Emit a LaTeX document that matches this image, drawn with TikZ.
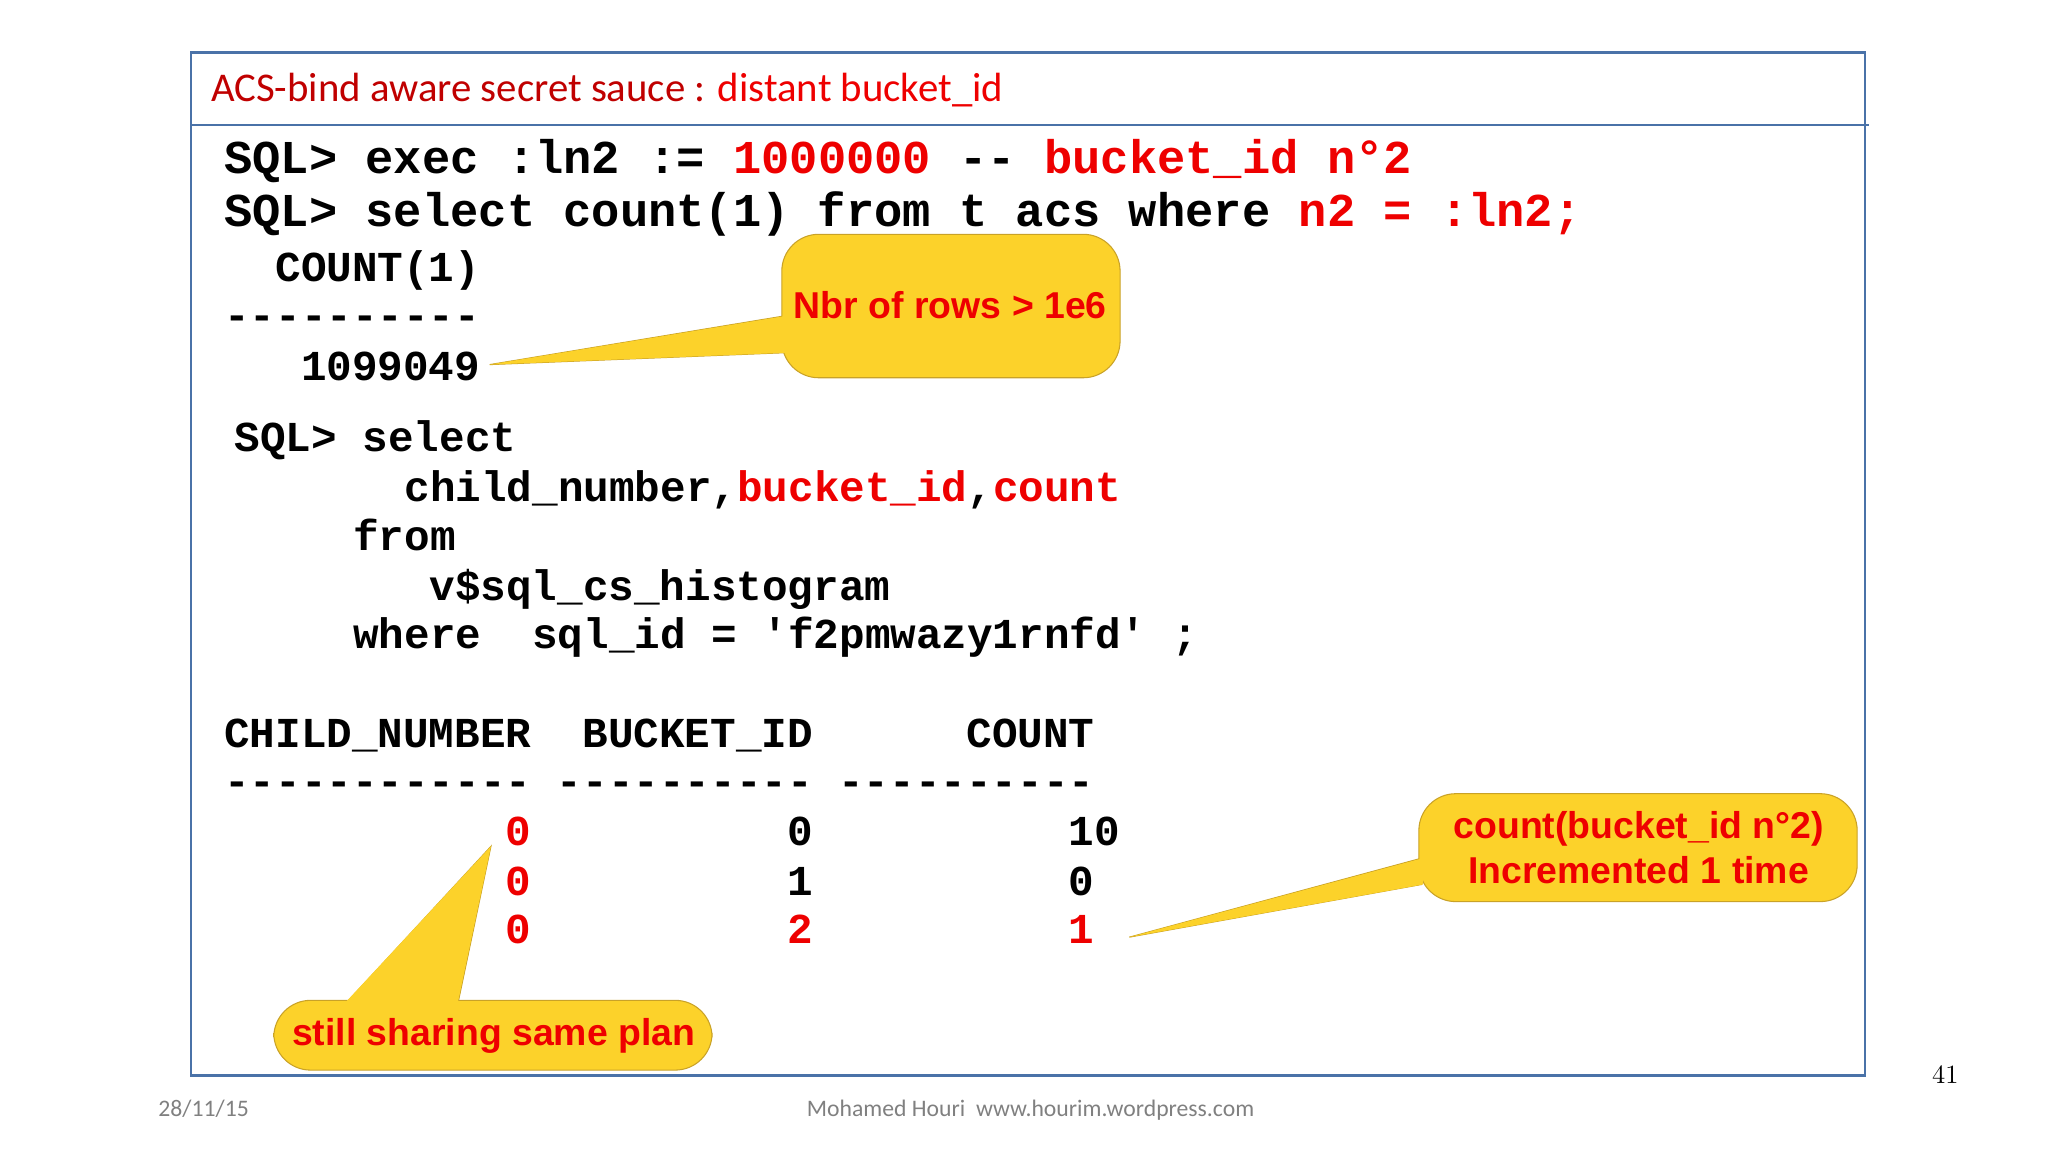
\documentclass[tikz,border=0pt]{standalone}
\usepackage{fontspec}
\setmonofont{Liberation Mono}
\newfontfamily\calib{Carlito}
\newfontfamily\arialf{Liberation Sans}
\definecolor{sqlred}{HTML}{EE0000}
\definecolor{titred}{HTML}{C00000}
\definecolor{frameblue}{HTML}{4A72A8}
\definecolor{calloutfill}{HTML}{FCD22A}
\definecolor{calloutline}{HTML}{C9A227}
\definecolor{footgray}{HTML}{808080}
\newcommand{\R}[1]{\textcolor{sqlred}{#1}}
\begin{document}
\begin{tikzpicture}[x=0.5pt,y=-0.5pt,
  bigcode/.style={anchor=base west,inner sep=0pt,font=\ttfamily\bfseries\fontsize{17.9}{20}\selectfont},
  code/.style={anchor=base west,inner sep=0pt,font=\ttfamily\bfseries\fontsize{16.2}{19}\selectfont},
  ctext/.style={font=\arialf\bfseries\fontsize{14.2}{17}\selectfont,text=sqlred,align=center},
  cbox/.style={fill=calloutfill,draw=calloutline,line width=0.4pt,rounded corners=14pt},
  ctri/.style={fill=calloutfill,draw=calloutline,line width=0.4pt}]
\useasboundingbox (0,0) rectangle (1556,875);
% frame
\draw[frameblue,line width=1pt] (145,40) rectangle (1417,817);
\draw[frameblue,line width=1pt] (145,95) -- (1420,95);
\node[anchor=base west,inner sep=0pt,font=\calib\fontsize{15.5}{18}\selectfont] (title) at (160,77)
  {\textcolor{titred}{ACS-bind aware secret sauce :} \textcolor{sqlred}{distant bucket\_id}};
% code
\node[bigcode] (l1) at (170,132) {SQL>~exec~:ln2~:=~\R{1000000}~--~\R{bucket\_id~n°2}};
\node[bigcode] (l2) at (170,172) {SQL>~select~count(1)~from~t~acs~where~\R{n2~=~:ln2;}};
\node[code] (l3) at (170,214) {~~COUNT(1)};
\node[code] (l4) at (170,250) {----------};
\node[code] (l5) at (170,289) {~~~1099049};
\node[code] (l6) at (178,343) {SQL>~select};
\node[code] (l7) at (307,381) {child\_number,\R{bucket\_id},\R{count}};
\node[code] (l8) at (268,418) {from};
\node[code] (l9) at (326,456) {v\$sql\_cs\_histogram};
\node[code] (l10) at (268,493) {where~~sql\_id~=~'f2pmwazy1rnfd'~;};
\node[code] (h1) at (170,568) {CHILD\_NUMBER~~BUCKET\_ID~~~~~~COUNT};
\node[code] (h2) at (170,604) {------------~----------~----------};
\node[code] (r1) at (170,642) {~~~~~~~~~~~\R{0}~~~~~~~~~~0~~~~~~~~~~10};
\node[code] (r2) at (170,680) {~~~~~~~~~~~\R{0}~~~~~~~~~~1~~~~~~~~~~0};
\node[code] (r3) at (170,717) {~~~~~~~~~~~\R{0}~~~~~~~~~~\R{2}~~~~~~~~~~\R{1}};
\coordinate (t1) at (372,277);
\coordinate (t2) at (858,712);
\coordinate (t3) at (373,643);
% callout 1
\draw[ctri] (t1) -- (596,240) -- (596,268) -- cycle;
\node[cbox,minimum width=257\pgflinewidth,inner sep=0pt] (c1box) at (722.5,232.5) {};
\draw[cbox] (594,178) rectangle (851,287);
\fill[calloutfill] (t1) -- (597,240) -- (597,268) -- cycle;
\node[ctext] (c1) at (722,232) {Nbr of rows > 1e6};
% callout 2
\draw[ctri] (t2) -- (1080,652) -- (1080,672) -- cycle;
\draw[cbox] (1078,603) rectangle (1411,685);
\fill[calloutfill] (t2) -- (1081,652) -- (1081,672) -- cycle;
\node[ctext] (c2) at (1245,644) {count(bucket\_id n°2)\\Incremented 1 time};
% callout 3
\draw[ctri] (t3) -- (263,762) -- (348,762) -- cycle;
\draw[cbox] (208,760) rectangle (541,813);
\fill[calloutfill] (t3) -- (263,761) -- (348,761) -- cycle;
\node[ctext] (c3) at (375,787) {still sharing same plan};
% footer
\node[anchor=base west,inner sep=0pt,text=footgray,font=\calib\fontsize{9}{11}\selectfont] (date) at (120,848) {28/11/15};
\node[anchor=base,inner sep=0pt,text=footgray,font=\calib\fontsize{9}{11}\selectfont] (auth) at (783,848) {Mohamed Houri\ \ www.hourim.wordpress.com};
\node[anchor=base,inner sep=0pt,font=\rmfamily\fontsize{10}{12}\selectfont] (pg) at (1478,823) {41};
\end{tikzpicture}
\end{document}
